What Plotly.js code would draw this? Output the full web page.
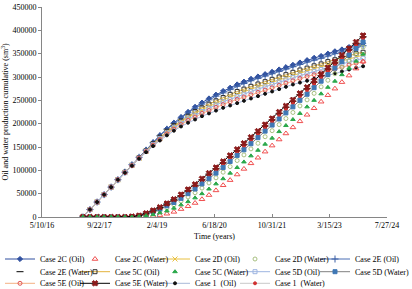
<!DOCTYPE html>
<html>
<head>
<meta charset="utf-8">
<script src="https://cdn.plot.ly/plotly-3.0.1.min.js"></script>
<style>html,body{margin:0;padding:0;background:#fff;}#chart{width:412px;height:289px;}</style>
</head>
<body>
<div id="chart"></div>
<script>
// ---- data ----
const dates = ['2017-05-01','2017-07-01','2017-09-01','2017-11-01','2018-01-01','2018-03-01','2018-05-01','2018-07-01','2018-09-01','2018-11-01','2019-01-01','2019-03-01','2019-05-01','2019-07-01','2019-09-01','2019-11-01','2020-01-01','2020-03-01','2020-05-01','2020-07-01','2020-09-01','2020-11-01','2021-01-01','2021-03-01','2021-05-01','2021-07-01','2021-09-01','2021-11-01','2022-01-01','2022-03-01','2022-05-01','2022-07-01','2022-09-01','2022-11-01','2023-01-01','2023-03-01','2023-05-01','2023-07-01','2023-09-01','2023-11-01','2024-01-01'];

const case2C_oil = [0,16000,32000,48000,64000,80000,96000,112000,128000,144000,160000,175000,189000,202000,214000,225000,236000,245000,254000,262000,270000,277000,284000,290000,296000,301000,306000,311000,316000,321000,326000,331000,336000,341000,345000,350000,355000,359000,364000,368000,372000];
const case2E_oil = [0,16000,32000,48000,64000,80000,96000,112000,128000,143000,159000,174000,188000,200000,212000,223000,233000,242000,251000,259000,266000,273000,280000,286000,292000,297000,302000,307000,312000,317000,322000,327000,332000,336000,340000,345000,350000,354000,359000,363000,367000];
const case5C_oil = [0,16000,32000,48000,64000,80000,96000,111000,127000,142000,157000,171000,184000,196000,206000,216000,226000,234000,242000,249000,256000,263000,269000,274000,280000,285000,290000,295000,300000,305000,310000,315000,319000,324000,328000,333000,337000,341000,346000,350000,353000];
const case2D_oil = [0,16000,32000,48000,64000,80000,95000,111000,126000,141000,156000,169000,182000,193000,204000,213000,222000,230000,237000,244000,251000,257000,263000,269000,274000,279000,284000,289000,294000,299000,304000,309000,313000,318000,322000,326000,331000,335000,339000,343000,347000];
const case5D_oil = [0,16000,32000,48000,64000,80000,95000,111000,126000,141000,155000,168000,180000,191000,201000,210000,218000,226000,233000,240000,247000,252000,258000,263000,269000,274000,279000,284000,289000,294000,299000,303000,307000,312000,316000,320000,324000,328000,333000,337000,340000];
const case5E_oil = [0,16000,32000,48000,64000,80000,95000,110000,126000,140000,154000,166000,178000,188000,198000,207000,214000,222000,228000,235000,241000,247000,252000,257000,262000,267000,272000,277000,282000,287000,292000,297000,301000,305000,309000,313000,317000,321000,326000,330000,333000];
const case1_oil  = [0,16000,32000,48000,64000,80000,95000,110000,125000,139000,152000,164000,175000,185000,194000,202000,209000,216000,222000,228000,234000,239000,244000,249000,254000,259000,264000,269000,274000,279000,284000,288000,292000,296000,300000,304000,308000,312000,316000,320000,323000];

const case5E_water = [0,0,0,0,0,0,0,1000,3000,8000,14000,21000,29000,38000,48000,59000,70000,82000,94000,106000,119000,132000,145000,158000,171000,184000,198000,211000,225000,238000,251000,265000,278000,292000,306000,320000,333000,347000,361000,375000,389000];
const case2E_water = [0,0,0,0,0,0,0,1000,3000,8000,13000,20000,28000,37000,46000,57000,68000,80000,92000,104000,116000,129000,142000,155000,168000,181000,195000,208000,222000,235000,248000,262000,275000,289000,303000,317000,330000,344000,358000,372000,386000];
const case1_water  = [0,0,0,0,0,0,0,1000,3000,7000,13000,19000,26000,35000,44000,55000,65000,77000,88000,100000,113000,126000,139000,151000,164000,177000,191000,204000,218000,231000,244000,258000,271000,285000,299000,313000,326000,340000,354000,368000,382000];
const case5D_water = [0,0,0,0,0,0,0,1000,2000,6000,11000,17000,24000,31000,40000,50000,60000,71000,82000,94000,106000,119000,132000,144000,157000,170000,184000,197000,210000,223000,236000,250000,263000,277000,291000,305000,319000,333000,347000,361000,375000];
const case2D_water = [0,0,0,0,0,0,0,1000,2000,5000,9000,13000,19000,26000,34000,43000,52000,62000,73000,84000,96000,108000,121000,133000,146000,158000,172000,185000,198000,211000,224000,238000,251000,265000,279000,293000,307000,321000,335000,349000,364000];
const case5C_water = [0,0,0,0,0,0,0,0,1000,3000,5000,9000,13000,19000,26000,33000,41000,50000,60000,71000,82000,94000,106000,118000,131000,143000,156000,169000,183000,196000,209000,222000,236000,250000,264000,278000,291000,305000,319000,334000,349000];
const case2C_water = [0,0,0,0,0,0,0,0,0,1000,2000,4000,7000,11000,17000,23000,30000,38000,47000,57000,68000,79000,91000,103000,115000,127000,140000,153000,166000,179000,192000,205000,219000,233000,247000,261000,275000,289000,303000,318000,333000];

const tickDates  = ['2016-05-10','2017-09-22','2019-02-04','2020-06-18','2021-10-31','2023-03-15','2024-07-27'];
const tickLabels = ['5/10/16','9/22/17','2/4/19','6/18/20','10/31/21','3/15/23','7/27/24'];

// ---- legend grid placement (row, column) ----
const colTextX = [33, 113, 193, 273, 353];   // px where each legend column's text starts
const rowY     = [259, 271.7, 283.3];         // px of each legend row centre

// ---- series styling (draw order) ----
const series = [
  {name:'Case 2C (Oil)',   y:case2C_oil,  r:0, c:0, mode:'lines+markers', lc:'#2f4f9f', sym:'diamond', ms:4, mc:'#2f4f9f'},
  {name:'Case 2E (Oil)',   y:case2E_oil,  r:0, c:4, mode:'lines+markers', lc:'#4a6fb5', sym:'cross-thin-open', ms:5, mc:'#3a5fa5'},
  {name:'Case 5C (Oil)',   y:case5C_oil,  r:1, c:1, mode:'lines+markers', lc:'#e3b23c', sym:'square-open', ms:4, mc:'#333333'},
  {name:'Case 2D (Oil)',   y:case2D_oil,  r:0, c:2, mode:'lines+markers', lc:'#e8c040', sym:'x-thin-open', ms:5, mc:'#e8c040'},
  {name:'Case 5D (Oil)',   y:case5D_oil,  r:1, c:3, mode:'lines+markers', lc:'#9db4e0', sym:'square-open', ms:4, mc:'#9db4e0'},
  {name:'Case 5E (Oil)',   y:case5E_oil,  r:2, c:0, mode:'lines+markers', lc:'#f4b183', sym:'circle-open', ms:4, mc:'#e05555'},
  {name:'Case 1\u00a0 (Oil)', y:case1_oil, r:2, c:2, mode:'lines+markers', lc:'#a8b8d8', sym:'circle', ms:3, mc:'#111111'},
  {name:'Case 2C (Water)', y:case2C_water, r:0, c:1, mode:'markers', lc:'#f05050', sym:'triangle-up-open', ms:5, mc:'#f05050'},
  {name:'Case 2D (Water)', y:case2D_water, r:0, c:3, mode:'markers', lc:'#a8c080', sym:'circle-open', ms:4, mc:'#a8c080'},
  {name:'Case 1\u00a0 (Water)', y:case1_water, r:2, c:3, mode:'lines+markers', lc:'#c8c8c8', sym:'circle', ms:3, mc:'#d03030'},
  {name:'Case 5D (Water)', y:case5D_water, r:1, c:4, mode:'lines+markers', lc:'#808080', sym:'square', ms:4, mc:'#3f78b5'},
  {name:'Case 2E (Water)', y:case2E_water, r:1, c:0, mode:'markers', lc:'#000000', sym:'line-ew-open', ms:5, mc:'#000000'},
  {name:'Case 5E (Water)', y:case5E_water, r:2, c:1, mode:'lines+markers', lc:'#000000', sym:'x', ms:5, mc:'#8b1a1a'},
  {name:'Case 5C (Water)', y:case5C_water, r:1, c:2, mode:'markers', lc:'#2aa84a', sym:'triangle-up', ms:4, mc:'#2aa84a'}
];

const FONT = '"Liberation Serif", "Times New Roman", serif';
const M = {l:42, r:25, t:7, b:72};
const W = 412, H = 289, PW = W - M.l - M.r, PH = H - M.t - M.b;

const layout = {
  width:W, height:H,
  margin:Object.assign({autoexpand:false}, M),
  paper_bgcolor:'#fff', plot_bgcolor:'#fff',
  font:{family:FONT, size:8, color:'#000'},
  showlegend:true,
  xaxis:{type:'date', range:['2016-05-10','2024-07-27'], tickmode:'array', tickvals:tickDates, ticktext:tickLabels,
    ticks:'inside', ticklen:3, tickcolor:'#868686', showline:true, linecolor:'#868686', linewidth:1,
    showgrid:false, zeroline:false, tickfont:{family:FONT, size:8, color:'#000'},
    title:{text:'Time (years)', font:{family:FONT, size:8, color:'#000'}, standoff:4}},
  yaxis:{range:[0,450000], tick0:0, dtick:50000, tickformat:'d', ticks:'outside', ticklen:3, tickcolor:'#868686',
    showline:true, linecolor:'#868686', linewidth:1, showgrid:false, zeroline:false,
    tickfont:{family:FONT, size:8, color:'#000'},
    title:{text:'Oil and water production cumulative (sm<sup>3</sup>)', font:{family:FONT, size:8, color:'#000'}, standoff:4}}
};

const traces = series.map((s, i) => {
  const id = i === 0 ? 'legend' : 'legend' + (i + 1);
  layout[id] = {
    orientation:'h', xanchor:'left', yanchor:'middle',
    x:(Math.max(colTextX[s.c] - 38, 0) - M.l) / PW,
    y:-(rowY[s.r] - (M.t + PH)) / PH,
    bgcolor:'rgba(0,0,0,0)', borderwidth:0,
    font:{family:FONT, size:8, color:'#000'}, itemwidth:30
  };
  return {
    type:'scatter', x:dates, y:s.y, name:s.name, mode:s.mode, legend:id,
    line:{color:s.lc, width:1},
    marker:{symbol:s.sym, size:s.ms, color:s.mc, line:{color:s.mc, width:1}}
  };
});

Plotly.newPlot('chart', traces, layout, {staticPlot:true, displayModeBar:false});
</script>
</body>
</html>
